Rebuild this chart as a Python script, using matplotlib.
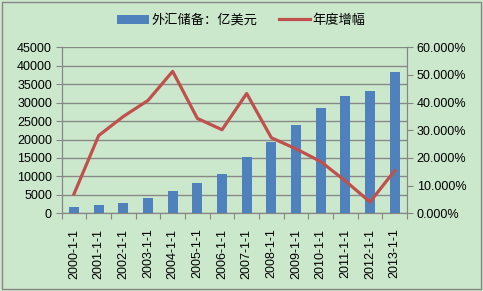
import matplotlib

matplotlib.use("Agg")

import matplotlib.pyplot as plt
import numpy as np
from matplotlib.patches import Rectangle
from matplotlib.ticker import FuncFormatter, MultipleLocator

plt.rcParams["font.family"] = ["Liberation Sans", "Noto Sans CJK SC"]

dates = [
    "2000-1-1", "2001-1-1", "2002-1-1", "2003-1-1", "2004-1-1", "2005-1-1", "2006-1-1",
    "2007-1-1", "2008-1-1", "2009-1-1", "2010-1-1", "2011-1-1", "2012-1-1", "2013-1-1",
]
reserves = [1656, 2122, 2864, 4033, 6099, 8189, 10663, 15282, 19460, 23992, 28473, 31811, 33116, 38213]
growth = [7.0, 28.1, 35.0, 40.8, 51.3, 34.3, 30.2, 43.3, 27.3, 23.3, 18.7, 11.7, 4.1, 15.4]

bg = "#cce8cc"
bar_color = "#4f81bd"
line_color = "#c0504d"

fig = plt.figure(figsize=(4.83, 2.91), dpi=100)
fig.patch.set_facecolor(bg)
fig.patches.append(
    Rectangle((0.004, 0.006), 0.992, 0.988, transform=fig.transFigure,
              fill=False, edgecolor="#868686", linewidth=1.0)
)

ax = fig.add_axes([0.1277, 0.267, 0.715, 0.5705])
ax.set_facecolor(bg)
x = np.arange(len(dates))
bars = ax.bar(x, reserves, width=0.41, color=bar_color, zorder=3, label="外汇储备：亿美元")

ax.set_xlim(-0.5, len(dates) - 0.5)
ax.set_ylim(0, 45000)
ax.yaxis.set_major_locator(MultipleLocator(5000))
ax.grid(axis="y", color="#888888", linewidth=1.0, zorder=0)
ax.set_axisbelow(True)

ax.set_xticks(np.arange(-0.5, len(dates), 1.0))
ax.set_xticklabels([])
ax.set_xticks(x, minor=True)
ax.set_xticklabels(dates, minor=True, rotation=90, fontsize=9)
ax.tick_params(axis="x", which="minor", length=0, pad=11)
ax.tick_params(axis="x", which="major", length=4, color="#868686")
ax.tick_params(axis="y", length=4, color="#868686", labelsize=9, pad=3)

ax.spines["top"].set_visible(False)
for side in ["left", "right", "bottom"]:
    ax.spines[side].set_color("#868686")

ax2 = ax.twinx()
line, = ax2.plot(x, growth, color=line_color, linewidth=2.3, zorder=4, label="年度增幅")
ax2.set_ylim(0, 60)
ax2.yaxis.set_major_locator(MultipleLocator(10))
ax2.yaxis.set_major_formatter(FuncFormatter(lambda v, p: f"{v:.3f}%"))
ax2.tick_params(axis="y", length=4, color="#868686", labelsize=9, pad=3)
ax2.spines["top"].set_visible(False)
for side in ["left", "right", "bottom"]:
    ax2.spines[side].set_color("#868686")

fig.legend(
    [bars, line], ["外汇储备：亿美元", "年度增幅"],
    loc="center", bbox_to_anchor=(0.5, 0.93), ncol=2, frameon=False,
    fontsize=9.5, handlelength=2.4, handletextpad=0.2, columnspacing=1.6,
)

fig.savefig("out.png", dpi=100, facecolor=bg)
plt.close(fig)
